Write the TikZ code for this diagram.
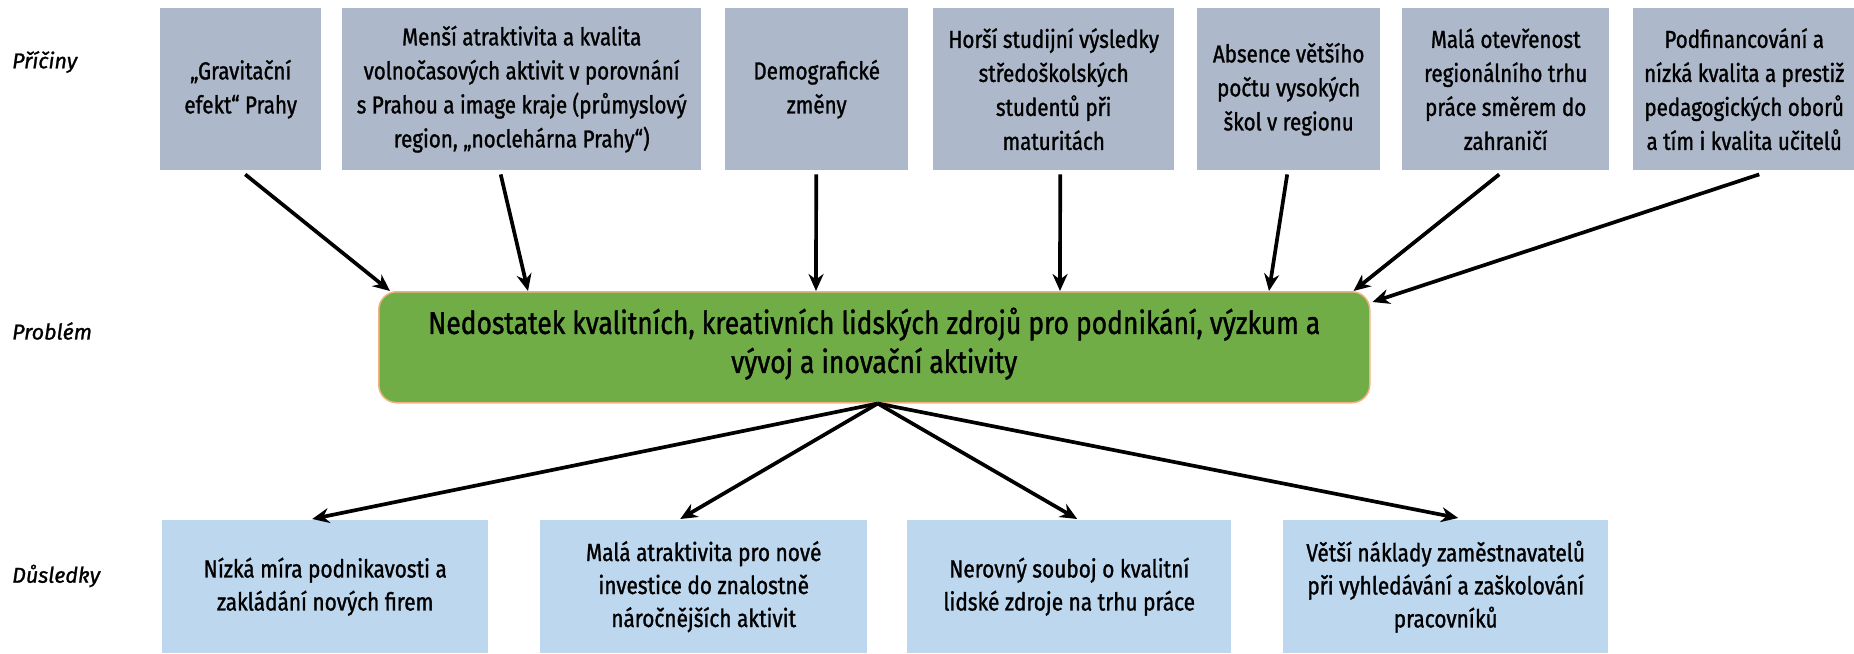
\documentclass[tikz,border=0pt]{standalone}
\usepackage{fontspec}
\IfFontExistsTF{FiraSans-Medium.otf}{%
  \setmainfont{FiraSans-Medium.otf}[FakeStretch=0.84]%
  \newfontfamily\labfont{FiraSans-MediumItalic.otf}%
}{%
  \setmainfont{Fira Sans}[FakeStretch=0.84, FakeBold=1.2]%
  \newfontfamily\labfont{Fira Sans}[FakeBold=1.2, UprightFont=*, ItalicFont=* Italic]%
}
\usetikzlibrary{arrows.meta,calc}
\definecolor{topc}{HTML}{ADB9CA}
\definecolor{botc}{HTML}{BDD7EE}
\definecolor{mainc}{HTML}{70AD47}
\definecolor{mainb}{HTML}{F4B183}
\begin{document}
\begin{tikzpicture}[x=1pt,y=-1pt,
  cause/.style={fill=topc, inner sep=0pt, align=center, anchor=north west,
    font=\fontsize{24.5}{34}\selectfont, minimum height=162pt},
  effect/.style={fill=botc, inner sep=0pt, align=center, anchor=north west,
    font=\fontsize{24.8}{33}\selectfont, minimum height=133pt},
  probbox/.style={fill=mainc, draw=mainb, line width=1.5pt, rounded corners=18pt,
    inner sep=0pt, align=center, anchor=north west,
    font=\fontsize{31.5}{39}\selectfont, minimum width=991pt, minimum height=111pt},
  lab/.style={anchor=west, inner sep=0pt, font=\fontsize{21.5}{24}\selectfont\labfont\itshape},
  arr/.style={line width=3.7pt, -{Stealth[length=17pt,width=15pt]}}
]
\useasboundingbox (0,0) rectangle (1854,653);

% row labels
\node[lab] (l1) at (12,62) {Příčiny};
\node[lab] (l2) at (12,331) {Problém};
\node[lab] (l3) at (12,576) {Důsledky};

% causes
\node[cause, minimum width=161pt] (c1) at (160,8) {„Gravitační\\efekt“ Prahy};
\node[cause, minimum width=359pt] (c2) at (342,8) {Menší atraktivita a kvalita\\volnočasových aktivit v porovnání\\s Prahou a image kraje (průmyslový\\region, „noclehárna Prahy“)};
\node[cause, minimum width=183pt] (c3) at (725,8) {Demografické\\změny};
\node[cause, minimum width=241pt] (c4) at (933,8) {Horší studijní výsledky\\středoškolských\\studentů při\\maturitách};
\node[cause, minimum width=183pt] (c5) at (1197,8) {Absence většího\\počtu vysokých\\škol v regionu};
\node[cause, minimum width=207pt] (c6) at (1402,8) {Malá otevřenost\\regionálního trhu\\práce směrem do\\zahraničí};
\node[cause, minimum width=222pt] (c7) at (1633,8) {Podfinancování a\\nízká kvalita a prestiž\\pedagogických oborů\\a tím i kvalita učitelů};

% problem
\node[probbox] (p) at (378,291) {Nedostatek kvalitních, kreativních lidských zdrojů pro podnikání, výzkum a\\vývoj a inovační aktivity\rule[-14pt]{0pt}{0pt}};

% effects
\node[effect, minimum width=326pt] (e1) at (162,520) {Nízká míra podnikavosti a\\zakládání nových firem};
\node[effect, minimum width=327pt] (e2) at (540,520) {Malá atraktivita pro nové\\investice do znalostně\\náročnějších aktivit};
\node[effect, minimum width=324pt] (e3) at (907,520) {Nerovný souboj o kvalitní\\lidské zdroje na trhu práce};
\node[effect, minimum width=325pt] (e4) at (1283,520) {Větší náklady zaměstnavatelů\\při vyhledávání a zaškolování\\pracovníků};

% cause arrows
\draw[arr] ($(c1.south)+(4.5,4)$) -- ($(p.north west)+(12,0)$);
\draw[arr] ($(c2.south)+(-21,4)$) -- ($(p.north west)+(150,0)$);
\draw[arr] ($(c3.south)+(-0.5,4)$) -- ($(p.north west)+(438,0)$);
\draw[arr] ($(c4.south)+(6.5,4)$) -- ($(p.north west)+(682,0)$);
\draw[arr] ($(c5.south)+(-1.5,4)$) -- ($(p.north west)+(891,0)$);
\draw[arr] ($(c6.south)+(-6.5,4)$) -- ($(p.north east)+(-17,0)$);
\draw[arr] ($(c7.south)+(15,4)$) -- ($(p.north east)+(2,11)$);

% effect arrows
\draw[arr] ($(p.south)+(3.5,0)$) -- ($(e1.north)+(-13,-1)$);
\draw[arr] ($(p.south)+(3.5,0)$) -- ($(e2.north)+(-23.5,-1)$);
\draw[arr] ($(p.south)+(3.5,0)$) -- ($(e3.north)+(8,-1)$);
\draw[arr] ($(p.south)+(3.5,0)$) -- ($(e4.north)+(12.5,-2)$);
\end{tikzpicture}
\end{document}
